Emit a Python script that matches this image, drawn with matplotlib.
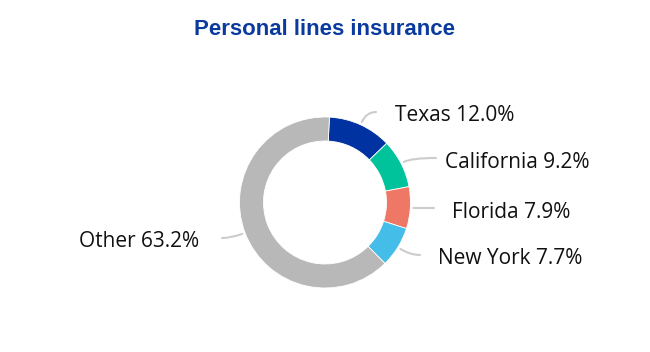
import numpy as np
import matplotlib
matplotlib.use("Agg")
import matplotlib.pyplot as plt
from matplotlib.path import Path
from matplotlib.patches import PathPatch

categories = ["Texas", "California", "Florida", "New York", "Other"]
values = [12.0, 9.2, 7.9, 7.7, 63.2]
colors = ["#0033A1", "#00C39B", "#EE7766", "#44BDE8", "#B8B8B8"]
title = "Personal lines insurance"

W, H = 650, 352
fig = plt.figure(figsize=(W / 100, H / 100), dpi=100)
ax = fig.add_axes([0, 0, 1, 1])
ax.set_xlim(0, W)
ax.set_ylim(0, H)
ax.set_aspect("equal")
ax.axis("off")

cx, cy = 325, H - 202.5
R = 85.5
width = 24
wedges, _ = ax.pie(values, colors=colors, startangle=87, counterclock=False,
                   radius=R, center=(cx, cy),
                   wedgeprops=dict(width=width, edgecolor="white", linewidth=0.6))
ax.set_xlim(0, W)
ax.set_ylim(0, H)

# label placement (line end, text baseline anchor) in pixel coords
line_ends = [(376, 112), (436, 158), (434, 208), (420, 255), (222, 238)]
text_pos = [(395, 121), (445, 168), (452, 218), (438, 264), (199, 247)]
label_font = ["Open Sans", "DejaVu Sans"]

for w, cat, val, le, tp in zip(wedges, categories, values, line_ends, text_pos):
    theta = np.deg2rad((w.theta1 + w.theta2) / 2)
    px = cx + (R + 3) * np.cos(theta)
    py = cy + (R + 3) * np.sin(theta)
    ex, ey = le[0], H - le[1]
    dx = abs(ex - px)
    s = np.sin(theta)
    t = (ey - py) / s if abs(s) > 1e-6 else -1
    if 0 < t < 0.8 * dx:
        ctrl = (px + t * np.cos(theta), ey)
    else:
        ctrl = ((px + ex) / 2, (py + ey) / 2)
    path = Path([(px, py), ctrl, (ex, ey)], [Path.MOVETO, Path.CURVE3, Path.CURVE3])
    ax.add_patch(PathPatch(path, fill=False, edgecolor="#CCCCCC", lw=1.5,
                           capstyle="round"))
    ha = "left" if tp[0] > cx else "right"
    ax.text(tp[0], H - tp[1], f"{cat} {val:.1f}%", ha=ha, va="baseline",
            fontsize=15, family=label_font, color="#111111")

fig.text(324 / W, 1 - 35 / H, title, ha="center", va="baseline", fontsize=16,
         fontweight="bold", color="#0A3A9E", family=["Liberation Sans", "DejaVu Sans"])

fig.savefig("out.png", dpi=100)
